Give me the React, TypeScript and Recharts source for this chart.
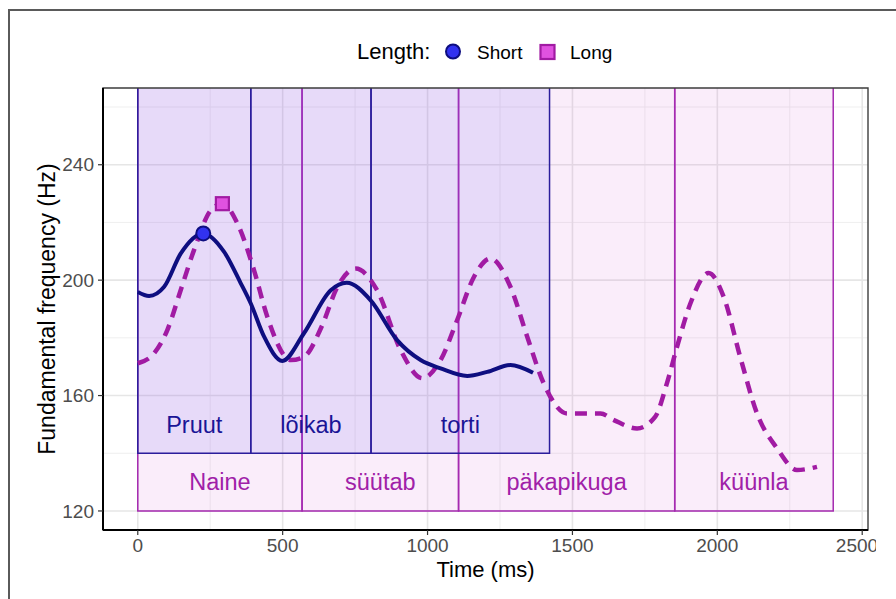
import {
  CartesianGrid,
  ComposedChart,
  Line,
  ReferenceArea,
  ReferenceDot,
  Scatter,
  XAxis,
  YAxis
} from "recharts";

// f0 contours (time in ms, f0 in Hz)
const shortTimes = [0, 39, 91, 148, 226, 298, 355, 390, 436, 499, 573, 666, 721, 803, 895, 976, 1045, 1137, 1206, 1286, 1364];
const shortHz = [195.9, 194.5, 197.7, 209.2, 216.2, 209.8, 199, 191.9, 180.4, 172, 181.5, 196.5, 199.1, 193.1, 179.2, 172.3, 169.4, 166.8, 168.2, 170.6, 167.9];

const longTimes = [0, 56, 102, 148, 194, 252, 292, 344, 401, 447, 528, 573, 635, 689, 752, 826, 907, 982, 1045, 1102, 1160, 1217, 1286, 1344, 1401, 1482, 1597, 1643, 1723, 1786, 1826, 1861, 1907, 1970, 2022, 2079, 2137, 2206, 2275, 2344];
const longHz = [171.2, 174.6, 182.7, 196.5, 210.4, 224.2, 226.5, 219.6, 203.5, 187.3, 172.3, 173.4, 184, 197.7, 204, 196.5, 175.8, 166, 172.3, 186.1, 201.1, 207.5, 197.7, 180.4, 164.2, 153.8, 153.8, 151.5, 148.6, 152.7, 164.2, 176.9, 191.9, 202.5, 194.2, 173.4, 153.8, 141.7, 134.2, 135.3];

// highest f0 point of each sentence
const shortPeak = [{ t: 226, f: 216.2 }];
const longPeak = [{ t: 292, f: 226.5 }];

// word segmentation
const shortWords = ["Pruut", "lõikab", "torti"];
const shortBounds = [0, 390, 805, 1421];
const longWords = ["Naine", "süütab", "päkapikuga", "küünla"];
const longBounds = [0, 567, 1107, 1853, 2400];

const xTicks = [0, 500, 1000, 1500, 2000, 2500];
const xMinor = [250, 750, 1250, 1750, 2250];
const yTicks = [120, 160, 200, 240];
const yMinor = [140, 180, 220, 260];

const shortData = shortTimes.map((t, i) => ({ t, f: shortHz[i] }));
const longData = longTimes.map((t, i) => ({ t, f: longHz[i] }));

const X_DOMAIN = [-120, 2520];
const Y_DOMAIN = [113.4, 266.6];

const FONT = "'Liberation Sans', Arial, sans-serif";
const NAVY = "#0E0E80";
const MAGENTA = "#A11BA3";

const yTitle = (p: any) => {
  const vb = p.viewBox ?? { x: 0, y: 88, width: 103, height: 442 };
  const cx = vb.x + 55;
  const cy = vb.y + vb.height / 2;
  return (
    <text x={cx} y={cy} transform={`rotate(-90 ${cx} ${cy})`} textAnchor="middle"
      fontSize={23} fill="#000" fontFamily={FONT}>
      Fundamental frequency (Hz)
    </text>
  );
};

const xTitle = (p: any) => {
  const vb = p.viewBox ?? { x: 103, y: 530, width: 765, height: 69 };
  return (
    <text x={vb.x + vb.width / 2} y={vb.y + 47} textAnchor="middle"
      fontSize={22} fill="#000" fontFamily={FONT}>
      Time (ms)
    </text>
  );
};

function Legend() {
  return (
    <svg width={896} height={80} style={{ position: "absolute", left: 0, top: 0 }}>
      <text x={357} y={59} fontSize={22} fontFamily={FONT} fill="#000">Length:</text>
      <circle cx={453} cy={51.5} r={7} fill="#3232F0" stroke={NAVY} strokeWidth={2} />
      <text x={477} y={59} fontSize={19} fontFamily={FONT} fill="#000">Short</text>
      <rect x={540.5} y={45} width={14} height={14} fill="#E052E0" stroke={MAGENTA} strokeWidth={2.2} />
      <text x={570} y={59} fontSize={19} fontFamily={FONT} fill="#000">Long</text>
    </svg>
  );
}

export default function App() {
  return (
    <div style={{ position: "absolute", left: 0, top: 0, width: 896, height: 599, overflow: "hidden", background: "#fff" }}>
      <div style={{ position: "absolute", left: 8, top: 9, width: 900, height: 600, borderTop: "2px solid #5a5a5a", borderLeft: "2px solid #5a5a5a" }} />
      <div style={{ position: "absolute", left: 0, top: 0 }}>
        <ComposedChart width={876} height={599} margin={{ top: 88, right: 8, bottom: 0, left: 0 }}>
          <CartesianGrid stroke="#EBEBEB" strokeWidth={0.8} horizontalValues={yMinor} verticalValues={xMinor} />
          <CartesianGrid stroke="#E6E6E6" strokeWidth={1.6} horizontalValues={yTicks} verticalValues={xTicks} />
          <XAxis
            dataKey="t"
            type="number"
            domain={X_DOMAIN}
            ticks={xTicks}
            allowDataOverflow
            height={69}
            tickSize={5}
            tickMargin={4}
            axisLine={{ stroke: "#000", strokeWidth: 2 }}
            tickLine={{ stroke: "#333", strokeWidth: 1.2 }}
            tick={{ fill: "#4D4D4D", fontSize: 19, fontFamily: FONT }}
            label={xTitle}
          />
          <YAxis
            dataKey="f"
            type="number"
            domain={Y_DOMAIN}
            ticks={yTicks}
            allowDataOverflow
            width={103}
            tickSize={5}
            tickMargin={4}
            axisLine={{ stroke: "#000", strokeWidth: 2 }}
            tickLine={{ stroke: "#333", strokeWidth: 1.2 }}
            tick={{ fill: "#4D4D4D", fontSize: 19, fontFamily: FONT }}
            label={yTitle}
          />
          {longWords.map((w, i) => (
            <ReferenceArea key={"la" + w} x1={longBounds[i]} x2={longBounds[i + 1]} y1={120} y2={320}
              ifOverflow="hidden" fill="#D24BD2" fillOpacity={0.1} stroke="#A52AB0" strokeWidth={1.5} />
          ))}
          {shortWords.map((w, i) => (
            <ReferenceArea key={"sa" + w} x1={shortBounds[i]} x2={shortBounds[i + 1]} y1={140} y2={320}
              ifOverflow="hidden" fill="#6F5CF5" fillOpacity={0.13} stroke="#2B1D9C" strokeWidth={1.5} />
          ))}
          {longWords.map((w, i) => (
            <ReferenceDot key={"lt" + w} x={(longBounds[i] + longBounds[i + 1]) / 2} y={130} r={0}
              fill="none" stroke="none"
              label={{ value: w, position: "center", fill: "#A020A8", fontSize: 23.5, fontFamily: FONT }} />
          ))}
          {shortWords.map((w, i) => (
            <ReferenceDot key={"st" + w} x={(shortBounds[i] + shortBounds[i + 1]) / 2} y={150} r={0}
              fill="none" stroke="none"
              label={{ value: w, position: "center", fill: "#1A1496", fontSize: 23.5, fontFamily: FONT }} />
          ))}
          <ReferenceArea x1={X_DOMAIN[0]} x2={X_DOMAIN[1]} y1={Y_DOMAIN[0]} y2={Y_DOMAIN[1]}
            ifOverflow="visible" fill="none" stroke="#3d3d3d" strokeWidth={1.4} />
          <Line data={longData} dataKey="f" type="monotone" stroke={MAGENTA} strokeWidth={4.5}
            strokeDasharray="12 8" dot={false} activeDot={false} isAnimationActive={false} />
          <Line data={shortData} dataKey="f" type="monotone" stroke={NAVY} strokeWidth={4}
            dot={false} activeDot={false} isAnimationActive={false} />
          <Scatter data={shortPeak} dataKey="f" isAnimationActive={false}
            shape={(p: any) => <circle cx={p.cx} cy={p.cy} r={7} fill="#3232F0" stroke={NAVY} strokeWidth={2} />} />
          <Scatter data={longPeak} dataKey="f" isAnimationActive={false}
            shape={(p: any) => <rect x={p.cx - 6.5} y={p.cy - 6.5} width={13} height={13} fill="#E052E0" stroke={MAGENTA} strokeWidth={2.2} />} />
        </ComposedChart>
      </div>
      <Legend />
    </div>
  );
}
